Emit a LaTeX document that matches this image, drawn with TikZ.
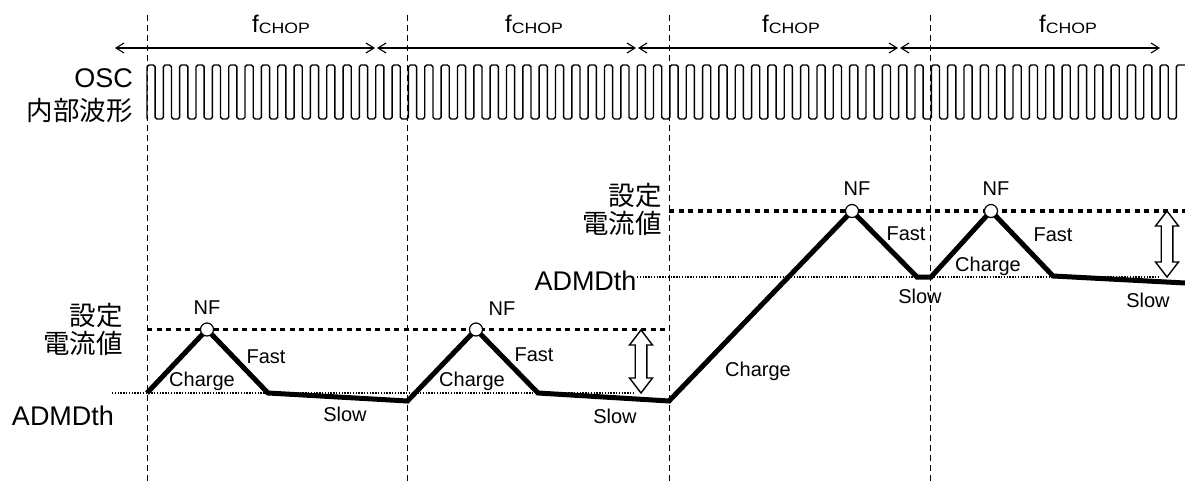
\documentclass[tikz,border=0pt]{standalone}
\usepackage{fontspec}
\usepackage{graphicx}
\setmainfont{Liberation Sans}
\newfontfamily\jp{Noto Sans CJK JP}
\usetikzlibrary{arrows.meta}
\begin{document}
\begin{tikzpicture}[x=1pt,y=-1pt,
  big/.style={font=\fontsize{27}{28}\selectfont, inner sep=0pt},
  jpl/.style={font=\jp\fontsize{26.5}{28}\selectfont, inner sep=0pt, align=right},
  lbl/.style={font=\fontsize{20}{22}\selectfont, inner sep=0pt, anchor=base},
  vgrid/.style={line width=0.9pt, dash pattern=on 6pt off 4pt},
  period/.style={line width=1.1pt, {Straight Barb[length=8pt,width=10pt]}-{Straight Barb[length=8pt,width=10pt]}},
  setline/.style={line width=3.8pt, dash pattern=on 5pt off 4.5pt},
  thline/.style={line width=1.2pt, dash pattern=on 1.4pt off 1.4pt},
  curr/.style={line width=5pt},
  nfc/.style={circle, draw, fill=white, line width=1.2pt, minimum size=13pt, inner sep=0pt},
  hollow/.style={line width=1.4pt, fill=white, line join=miter},
  osc/.style={line width=1.4pt, rounded corners=1.8pt}
]
\useasboundingbox (0,0) rectangle (1185,481);

% vertical dashed lines
\foreach \i/\x in {1/147,2/407.5,3/669,4/930.5}{
  \coordinate (vt\i) at (\x,15);
  \coordinate (vb\i) at (\x,481);
  \draw[vgrid] (vt\i) -- (vb\i);
}

% f_CHOP arrows
\foreach \i/\a/\b/\c in {1/115/375/281,2/377/636/534,3/638/898/791,4/900/1160/1068}{
  \coordinate (fa\i) at (\a,48);
  \coordinate (fb\i) at (\b,48);
  \draw[period] (fa\i) -- (fb\i);
  \node[anchor=base, inner sep=0pt] (fl\i) at (\c,33)
    {{\fontsize{24}{24}\selectfont f}\raisebox{-1pt}{\fontsize{15}{15}\selectfont\scalebox{1.18}[1]{CHOP}}};
}

% OSC waveform
\node[big, anchor=base east] (osc) at (133,88) {OSC};
\node[jpl, anchor=east] (oscjp) at (133,110) {内部波形};
\coordinate (w0) at (147,119);
\draw[osc] (w0) \foreach \k in {1,...,63}{ -- ++(0,-54) -- ++(8.17,0) -- ++(0,54) -- ++(8.17,0) } -- ++(0,-54) -- ++(9,0);

% set-current and threshold lines
\coordinate (s1a) at (147,329.5);
\coordinate (s1b) at (669,329.5);
\coordinate (s2a) at (669,211);
\coordinate (s2b) at (1185,211);
\draw[setline] (s1a) -- (s1b);
\draw[setline] (s2a) -- (s2b);
\coordinate (t1a) at (112,393);
\coordinate (t1b) at (635,393);
\coordinate (t2a) at (637,277);
\coordinate (t2b) at (1160,277);
\draw[thline] (t1a) -- (t1b);
\draw[thline] (t2a) -- (t2b);

\node[big, anchor=base] (adm1) at (63,425) {ADMDth};
\node[big, anchor=base] (adm2) at (585.5,290) {ADMDth};
\node[jpl, anchor=east] (set1) at (123,329) {設定\\電流値};
\node[jpl, anchor=east] (set2) at (662,209) {設定\\電流値};

% current waveform
\coordinate (p0) at (147,393);
\coordinate (n1) at (207,329.5);
\coordinate (p1) at (268,393);
\coordinate (p2) at (407.5,401);
\coordinate (n2) at (476,329.5);
\coordinate (p3) at (538,393);
\coordinate (p4) at (669,401);
\coordinate (n3) at (852,211);
\coordinate (p5) at (917,277);
\coordinate (p6) at (931,277);
\coordinate (n4) at (991,211);
\coordinate (p7) at (1053,276);
\coordinate (p8) at (1185,283);
\draw[curr] (p0) -- (n1) -- (p1) -- (p2) -- (n2) -- (p3) -- (p4) -- (n3) -- (p5) -- (p6) -- (n4) -- (p7) -- (p8);
\foreach \n in {n1,n2,n3,n4}{ \node[nfc] (c\n) at (\n) {}; }

% double arrows
\coordinate (da1) at (641,330);
\draw[hollow] (da1) -- ++(11.5,15) -- ++(-5.7,0) -- ++(0,33) -- ++(5.7,0) -- ++(-11.5,15) -- ++(-11.5,-15) -- ++(5.7,0) -- ++(0,-33) -- ++(-5.7,0) -- cycle;
\coordinate (da2) at (1167,211);
\draw[hollow] (da2) -- ++(11.5,15) -- ++(-5.7,0) -- ++(0,36) -- ++(5.7,0) -- ++(-11.5,15) -- ++(-11.5,-15) -- ++(5.7,0) -- ++(0,-36) -- ++(-5.7,0) -- cycle;

% labels
\node[lbl] (nf1) at (207,314) {NF};
\node[lbl] (nf2) at (502,315) {NF};
\node[lbl] (nf3) at (857,196) {NF};
\node[lbl] (nf4) at (996,196) {NF};
\node[lbl] (ch1) at (202,386.5) {Charge};
\node[lbl] (ch2) at (472,386) {Charge};
\node[lbl] (ch3) at (758,376.5) {Charge};
\node[lbl] (ch4) at (988,271) {Charge};
\node[lbl] (fa1l) at (266,363) {Fast};
\node[lbl] (fa2l) at (534,361) {Fast};
\node[lbl] (fa3l) at (906,240) {Fast};
\node[lbl] (fa4l) at (1053,241) {Fast};
\node[lbl] (sl1) at (345,421.5) {Slow};
\node[lbl] (sl2) at (615,423) {Slow};
\node[lbl] (sl3) at (920,303) {Slow};
\node[lbl] (sl4) at (1148,307) {Slow};
\end{tikzpicture}
\end{document}
